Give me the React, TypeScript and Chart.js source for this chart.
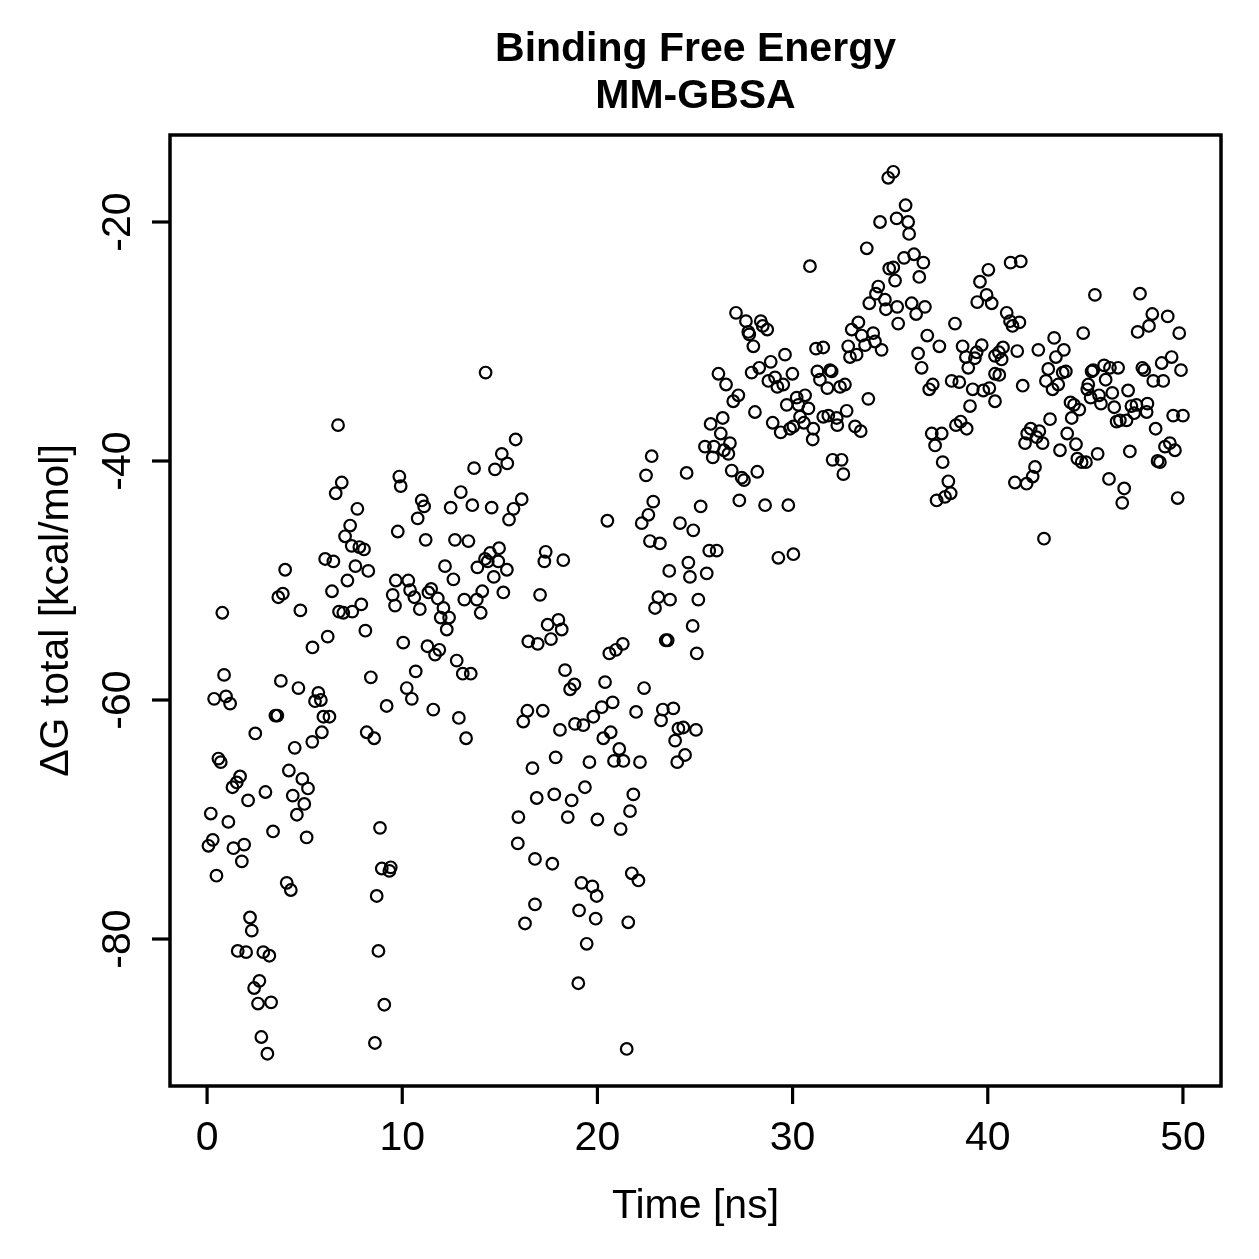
import React, { useEffect, useRef } from "react";
import { Chart, registerables } from "chart.js";

Chart.register(...registerables);

const titleLines = ["Binding Free Energy", "MM-GBSA"];
const xAxisLabel = "Time [ns]";
const yAxisLabel = "ΔG total [kcal/mol]";
const xTickValues = [0, 10, 20, 30, 40, 50];
const yTickValues = [-20, -40, -60, -80];

// Time [ns] of each sample
const timeNs = [
  // 0-5 ns
  0.78, 3.65, 3.88, 4.78, 0.87, 0.36, 0.97, 1.18, 3.78, 4.68, 3.5, 3.6, 2.47, 4.49, 0.58, 0.7, 1.69, 1.52, 1.3, 2.99,
  2.1, 4.19, 4.88, 5.17, 4.39, 4.98, 4.6, 0.19, 1.09, 3.38, 5.1, 0.29, 0.07, 1.35, 1.9, 1.78, 0.48, 4.08, 4.29, 2.2,
  2.29, 1.57, 2.0, 2.88, 3.19, 2.68, 2.41, 2.61, 3.28, 2.78, 3.09, 4.0,
  // 5-10 ns
  6.71, 9.85, 9.92, 6.9, 6.59, 7.7, 7.33, 7.07, 7.41, 7.8, 8.04, 9.77, 6.05, 6.47, 7.6, 8.26, 7.19, 9.67, 9.51, 9.63,
  6.4, 6.76, 6.98, 7.44, 7.9, 8.11, 6.18, 5.4, 10.05, 8.39, 5.7, 5.83, 5.53, 5.96, 6.27, 5.88, 5.39, 9.2, 8.18, 8.56,
  8.86, 8.95, 9.34, 9.41, 8.69, 8.78, 9.08, 8.6,
  // 10-15 ns
  14.27, 13.68, 14.75, 13.0, 11.0, 11.12, 10.79, 12.48, 13.59, 14.58, 11.2, 12.7, 13.39, 14.96, 14.5, 14.24, 13.85, 14.38, 14.92, 14.69,
  12.19, 12.62, 10.31, 10.4, 10.62, 11.48, 11.34, 11.82, 10.9, 12.11, 11.97, 12.4, 12.28, 13.18, 14.1, 13.82, 14.02, 11.29, 11.68, 11.9,
  12.79, 13.1, 13.51, 10.69, 10.23, 10.49, 11.59, 12.9, 13.27,
  // 15-20 ns
  15.81, 15.1, 15.38, 16.12, 15.7, 15.47, 15.36, 15.18, 17.35, 17.28, 18.25, 17.06, 18.0, 17.45, 18.17, 17.62, 16.94, 16.46, 18.34, 18.82,
  18.6, 16.41, 16.2, 17.2, 18.08, 18.85, 19.28, 19.79, 17.86, 16.67, 19.59, 16.89, 17.79, 18.68, 19.36, 15.95, 18.48, 20.0, 15.92, 16.8,
  17.69, 19.18, 19.74, 19.96, 16.8, 16.29, 19.06, 19.91, 19.45, 19.02,
  // 20-25 ns
  22.78, 22.49, 24.57, 22.86, 22.61, 22.27, 20.51, 24.23, 24.91, 22.69, 23.2, 23.68, 24.66, 24.74, 23.12, 22.95, 23.72, 24.88, 23.5, 23.6,
  21.3, 20.95, 20.61, 20.39, 22.39, 20.78, 20.22, 21.98, 23.35, 23.89, 23.26, 24.4, 24.15, 23.98, 25.05, 20.68, 20.3, 21.12, 20.85, 21.33,
  22.18, 24.49, 24.09, 21.84, 21.67, 21.19, 21.76, 22.1, 21.58, 21.5,
  // 25-30 ns
  27.1, 27.61, 28.37, 28.47, 28.7, 27.73, 27.78, 27.99, 29.61, 28.88, 28.29, 27.9, 29.99, 29.1, 28.76, 29.52, 29.22, 26.2, 26.59, 27.22,
  26.96, 28.07, 29.7, 28.98, 29.39, 29.87, 26.42, 25.8, 26.32, 25.51, 25.97, 26.79, 26.48, 26.71, 25.91, 26.88, 27.39, 27.51, 28.19, 27.27,
  25.29, 28.59, 29.78, 25.73, 26.11, 29.27, 30.04, 25.6, 25.17, 25.09,
  // 30-35 ns
  34.9, 35.16, 34.48, 35.33, 33.8, 30.89, 35.71, 34.95, 35.16, 35.25, 34.39, 34.27, 33.93, 34.73, 34.78, 35.36, 35.41, 33.37, 33.03, 33.54,
  34.13, 34.22, 33.71, 34.56, 32.85, 32.94, 33.28, 31.2, 31.57, 31.27, 31.4, 31.92, 32.0, 31.78, 32.43, 32.68, 30.21, 30.64, 30.3, 30.81,
  30.38, 30.58, 30.04, 31.57, 31.83, 32.26, 32.29, 32.77, 31.06, 31.03, 33.2, 33.49, 33.88, 32.05, 32.51, 32.6,
  // 35-40 ns
  35.79, 35.92, 35.97, 36.22, 36.7, 36.49, 36.1, 36.33, 36.78, 40.03, 39.6, 39.94, 39.46, 40.2, 38.32, 36.9, 37.52, 38.71, 39.69, 38.88,
  39.43, 39.34, 39.0, 36.43, 36.61, 38.15, 38.54, 39.23, 39.09, 39.77, 40.08, 37.18, 37.0, 38.37, 38.61, 38.92, 37.13, 37.64, 37.3, 37.69,
  37.98, 38.1, 37.81, 37.38,
  // 40-45 ns
  41.17, 41.69, 40.97, 41.14, 41.62, 41.27, 44.89, 43.4, 43.9, 43.49, 42.59, 41.51, 40.78, 40.57, 40.37, 40.71, 40.37, 40.59, 43.1, 42.98,
  43.32, 43.61, 43.84, 44.0, 45.32, 45.15, 45.1, 45.27, 41.79, 40.37, 44.24, 44.42, 44.69, 44.3, 43.19, 42.2, 42.02, 42.64, 42.5, 42.81,
  41.91, 44.07, 44.52, 44.59, 44.81, 45.03, 43.7, 42.42, 42.3, 41.99, 41.39, 42.88,
  // 45-50 ns
  45.49, 47.8, 48.43, 49.22, 48.26, 47.68, 49.81, 49.42, 48.91, 49.9, 47.92, 48.02, 48.48, 48.99, 45.4, 45.96, 46.26, 46.68, 46.04, 45.7,
  45.8, 46.38, 46.48, 47.19, 47.36, 47.62, 48.18, 47.5, 48.14, 46.6, 46.77, 47.11, 49.5, 50.0, 48.6, 45.63, 47.28, 49.33, 49.08, 49.59,
  48.7, 48.82, 46.21, 46.99, 46.89, 49.73,
];

// ΔG total [kcal/mol] of each sample (same order as timeNs)
const deltaGTotal = [
  // 0-5 ns
  -52.7, -51.4, -51.1, -52.5, -57.9, -59.9, -59.7, -60.3, -58.4, -59.0, -61.3, -61.3, -62.8, -64.0, -64.9, -65.2, -66.4, -66.9, -67.3, -67.7,
  -68.4, -65.9, -66.6, -67.4, -68.0, -68.7, -69.6, -69.5, -70.2, -71.0, -71.5, -71.7, -72.2, -72.4, -72.1, -73.5, -74.7, -75.3, -75.9, -78.2,
  -79.3, -81.0, -81.1, -81.1, -81.4, -83.5, -84.1, -85.4, -85.3, -88.2, -89.6, -49.1,
  // 5-10 ns
  -37.0, -41.3, -42.1, -41.8, -42.7, -44.0, -45.4, -46.3, -47.1, -47.2, -47.4, -45.9, -48.2, -48.4, -48.8, -49.2, -50.0, -50.0, -51.2, -52.1,
  -50.9, -52.6, -52.7, -52.6, -52.0, -54.2, -54.7, -55.6, -55.2, -58.1, -59.4, -60.0, -60.1, -61.4, -61.4, -62.7, -63.5, -60.5, -62.7, -63.2,
  -70.7, -74.1, -74.3, -74.0, -76.4, -81.0, -85.5, -88.7,
  // 10-15 ns
  -32.6, -40.6, -40.7, -42.6, -43.3, -43.8, -44.8, -43.9, -43.7, -43.9, -46.6, -46.6, -46.7, -47.3, -47.7, -48.2, -48.9, -48.4, -48.4, -49.7,
  -48.8, -49.9, -50.0, -50.8, -51.4, -50.7, -51.0, -51.5, -52.4, -52.3, -53.1, -53.1, -54.1, -51.6, -50.9, -51.6, -52.7, -55.5, -56.2, -55.8,
  -56.7, -57.8, -57.8, -57.6, -59.0, -59.9, -60.8, -61.5, -63.2,
  // 15-20 ns
  -38.2, -39.4, -40.2, -43.2, -44.0, -44.9, -49.1, -51.0, -47.6, -48.4, -48.3, -51.2, -53.3, -53.7, -54.1, -54.9, -55.3, -55.1, -57.5, -58.7,
  -59.1, -60.9, -61.8, -60.9, -62.5, -62.0, -62.1, -61.4, -64.8, -65.7, -65.2, -68.2, -67.9, -68.4, -67.3, -69.8, -69.8, -70.0, -72.0, -73.3,
  -73.7, -75.3, -75.6, -76.4, -77.1, -78.7, -77.6, -78.3, -80.4, -83.7,
  // 20-25 ns
  -39.6, -41.2, -41.0, -43.4, -44.5, -45.2, -45.0, -45.2, -45.8, -46.7, -46.9, -49.2, -48.5, -49.7, -51.4, -52.3, -51.6, -53.8, -55.0, -55.0,
  -55.3, -55.8, -56.1, -58.5, -59.0, -60.2, -60.6, -61.0, -60.8, -60.7, -61.7, -62.3, -62.4, -63.4, -62.5, -62.7, -63.2, -64.1, -65.1, -65.1,
  -65.2, -64.6, -65.2, -67.9, -69.3, -70.8, -74.5, -75.1, -78.6, -89.2,
  // 25-30 ns
  -27.6, -28.3, -28.3, -28.7, -29.0, -29.2, -29.4, -30.4, -31.1, -31.7, -32.2, -32.6, -32.7, -33.0, -33.3, -33.6, -33.8, -32.7, -33.6, -34.5,
  -35.0, -35.9, -35.3, -36.8, -37.6, -37.3, -36.4, -36.9, -37.7, -38.8, -38.8, -38.5, -39.1, -39.4, -39.7, -40.8, -41.4, -41.6, -40.9, -43.3,
  -43.8, -43.7, -43.7, -47.5, -47.5, -48.1, -47.8, -49.4, -51.6, -56.1,
  // 30-35 ns
  -16.3, -15.8, -20.0, -19.7, -22.2, -23.7, -23.0, -23.9, -23.8, -24.9, -25.4, -26.0, -26.8, -26.5, -27.3, -27.1, -28.5, -28.4, -29.0, -29.5,
  -29.3, -30.0, -30.3, -30.7, -30.4, -31.3, -31.1, -30.6, -30.5, -32.5, -33.2, -32.4, -32.5, -33.9, -33.8, -33.6, -34.7, -34.5, -35.3, -35.6,
  -36.3, -36.8, -37.1, -36.3, -36.2, -36.4, -37.0, -35.8, -37.3, -38.2, -37.1, -37.5, -34.8, -39.9, -39.9, -41.1,
  // 35-40 ns
  -18.6, -20.0, -21.0, -22.7, -23.4, -24.6, -26.8, -27.7, -27.1, -24.0, -25.0, -26.1, -26.7, -26.8, -28.5, -29.5, -30.4, -30.4, -30.3, -31.3,
  -30.9, -31.4, -32.2, -31.0, -32.2, -33.3, -33.4, -34.0, -35.4, -34.1, -33.9, -33.6, -34.0, -37.0, -36.7, -37.3, -37.7, -37.7, -38.7, -40.1,
  -41.7, -42.7, -43.0, -43.3,
  // 40-45 ns
  -23.4, -23.3, -27.6, -28.3, -28.4, -28.7, -29.3, -29.7, -30.7, -31.3, -30.7, -30.8, -30.5, -30.9, -31.2, -31.5, -32.7, -32.8, -32.3, -33.3,
  -34.0, -33.6, -32.6, -32.5, -32.5, -33.6, -34.0, -34.7, -33.7, -35.0, -35.1, -35.3, -35.7, -36.4, -36.5, -37.3, -37.7, -37.5, -38.0, -38.5,
  -38.5, -37.7, -38.6, -39.8, -40.1, -40.1, -39.1, -40.5, -41.3, -41.9, -41.8, -46.5,
  // 45-50 ns
  -26.1, -26.0, -27.7, -27.9, -28.7, -29.2, -29.3, -31.3, -31.8, -32.4, -32.2, -32.4, -33.3, -33.3, -32.4, -32.0, -32.2, -32.2, -33.2, -34.5,
  -35.2, -34.3, -35.5, -34.1, -35.4, -35.3, -35.2, -36.0, -35.9, -36.7, -36.6, -36.6, -36.2, -36.2, -37.3, -39.4, -39.2, -38.5, -38.8, -39.1,
  -40.0, -40.1, -41.5, -42.3, -43.5, -43.1,
];

const FONT = "'Liberation Sans', Arial, Helvetica, sans-serif";

const axesPlugin = {
  id: "rStyleAxes",
  afterDraw(chart: any) {
    const { ctx, chartArea } = chart;
    const xs = chart.scales.x;
    const ys = chart.scales.y;
    ctx.save();
    ctx.strokeStyle = "#000";
    ctx.fillStyle = "#000";
    ctx.lineWidth = 3.5;
    // box
    ctx.strokeRect(chartArea.left, chartArea.top, chartArea.right - chartArea.left, chartArea.bottom - chartArea.top);
    ctx.lineWidth = 3.2;
    // x ticks
    ctx.font = `41px ${FONT}`;
    ctx.textAlign = "center";
    ctx.textBaseline = "alphabetic";
    for (const v of xTickValues) {
      const px = xs.getPixelForValue(v);
      ctx.beginPath();
      ctx.moveTo(px, chartArea.bottom);
      ctx.lineTo(px, chartArea.bottom + 18);
      ctx.stroke();
      ctx.fillText(String(v), px, chartArea.bottom + 64);
    }
    // y ticks
    for (const v of yTickValues) {
      const py = ys.getPixelForValue(v);
      ctx.beginPath();
      ctx.moveTo(chartArea.left, py);
      ctx.lineTo(chartArea.left - 18, py);
      ctx.stroke();
      ctx.save();
      ctx.translate(chartArea.left - 40, py);
      ctx.rotate(-Math.PI / 2);
      ctx.fillText(String(v), 0, 0);
      ctx.restore();
    }
    // axis titles
    const cx = (chartArea.left + chartArea.right) / 2;
    const cy = (chartArea.top + chartArea.bottom) / 2;
    ctx.fillText(xAxisLabel, cx, chartArea.bottom + 132);
    ctx.save();
    ctx.translate(68, cy);
    ctx.rotate(-Math.PI / 2);
    ctx.fillText(yAxisLabel, 0, 0);
    ctx.restore();
    // main title
    ctx.font = `bold 41px ${FONT}`;
    ctx.fillText(titleLines[0], cx, 61);
    ctx.fillText(titleLines[1], cx, 108);
    ctx.restore();
  },
};

export default function App() {
  const canvasRef = useRef<HTMLCanvasElement | null>(null);

  useEffect(() => {
    document.body.style.margin = "0";
    const canvas = canvasRef.current;
    if (!canvas) return;
    const points = timeNs.map((t, i) => ({ x: t, y: deltaGTotal[i] }));
    const chart = new Chart(canvas, {
      type: "scatter",
      data: {
        datasets: [
          {
            data: points,
            pointStyle: "circle",
            pointRadius: 5.8,
            pointBorderWidth: 2.2,
            pointBorderColor: "#000",
            pointBackgroundColor: "rgba(0,0,0,0)",
          },
        ],
      },
      options: {
        responsive: false,
        animation: false,
        devicePixelRatio: 1,
        layout: { padding: { left: 170, top: 135, right: 38, bottom: 173 } },
        plugins: { legend: { display: false }, title: { display: false }, tooltip: { enabled: false } },
        scales: {
          x: { type: "linear", min: -1.9, max: 51.95, display: false },
          y: { type: "linear", min: -92.3, max: -12.72, display: false },
        },
      },
      plugins: [axesPlugin],
    });
    return () => chart.destroy();
  }, []);

  return (
    <div style={{ position: "absolute", left: 0, top: 0, width: 1259, height: 1259, background: "#fff" }}>
      <canvas ref={canvasRef} width={1259} height={1259} style={{ width: 1259, height: 1259 }} />
    </div>
  );
}
